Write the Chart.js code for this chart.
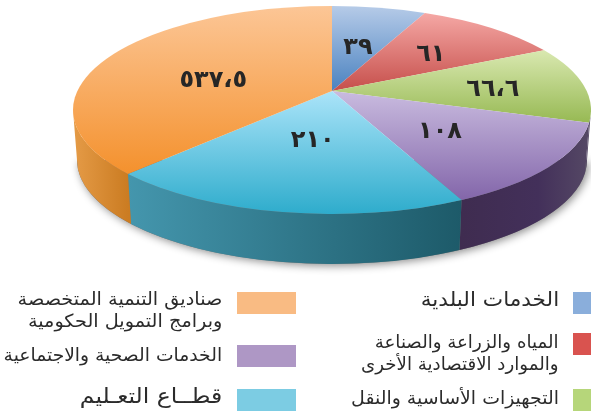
<!DOCTYPE html>
<html lang="ar">
<head>
<meta charset="utf-8">
<style>
  html, body { margin: 0; padding: 0; background: #fff; }
  #wrap { position: relative; width: 591px; height: 414px; overflow: hidden; }
  #legend div { position: absolute; }
  .swatch { width: 59px; height: 22px; }
  .label {
    direction: rtl; text-align: right; white-space: pre-line; transform-origin: right center;
    font-family: "DejaVu Sans", sans-serif; line-height: 22px; color: #2b2b2b;
  }
</style>
</head>
<body>
<div id="wrap">
  <canvas id="chart" width="591" height="414"></canvas>
  <div id="legend"></div>
</div>
<script src="https://cdn.jsdelivr.net/npm/chart.js@4"></script>
<script>
// ===============================
// Data
// ===============================
const categories = [
  "الخدمات البلدية",
  "المياه والزراعة والصناعة\nوالموارد الاقتصادية الأخرى",
  "التجهيزات الأساسية والنقل",
  "الخدمات الصحية والاجتماعية",
  "قطــاع التعـليم",
  "صناديق التنمية المتخصصة\nوبرامج التمويل الحكومية"
];
// printed values
const valueLabels = ["٣٩", "٦١", "٦٦،٦", "١٠٨", "٢١٠", "٥٣٧،٥"];
// slice sizes in degrees as drawn in the picture (not proportional to the printed values)
const sliceDegrees = [21, 34, 42, 53, 82, 128];

// ===============================
// Styles
// ===============================
const faceLight = ["#b6cbe8", "#f5a8a5", "#d9e8b0", "#c9bbdf", "#abe4f9", "#fcc696"];
const faceDark = ["#4a82c0", "#c64f4b", "#98ba55", "#8366aa", "#2eacCC", "#f4912d"];
const sideLight = ["#4a82c0", "#c64f4b", "#554865", "#3f2c50", "#4496ad", "#e59b47"];
const sideDark = ["#4a82c0", "#c64f4b", "#554865", "#554865", "#1d5a69", "#cb7c22"];
const swatchColors = ["#8aaedb", "#d9534f", "#b6d67a", "#ae97c5", "#7ccce3", "#f9bb83"];
const labelReach = [0.55, 0.62, 0.64, 0.5, 0.39, 0.51];

const legendSpots = [
  { swatchLeft: 573, swatchTop: 292, right: 32, top: 288, size: 20, stretch: 1.08 },
  { swatchLeft: 573, swatchTop: 333, right: 32, top: 331, size: 18, stretch: 1.01 },
  { swatchLeft: 573, swatchTop: 389, right: 32, top: 387, size: 18, stretch: 1.05 },
  { swatchLeft: 237, swatchTop: 345, right: 369, top: 344, size: 18, stretch: 1.04 },
  { swatchLeft: 237, swatchTop: 389, right: 369, top: 385, size: 21, stretch: 1.12 },
  { swatchLeft: 237, swatchTop: 292, right: 369, top: 288, size: 18, stretch: 1.07 }
];

// top ellipse, apex sits above its centre, lower rim is a bit narrower
const pie = { cx: 332, cy: 110, rx: 259, ry: 104, apexY: 91, depth: 50, baseRx: 255 };

// ===============================
// Tilted slice element
// ===============================
class TiltedArc extends Chart.ArcElement {
  draw(ctx) {
    const { startAngle, endAngle } = this.getProps(["startAngle", "endAngle"]);
    ctx.save();
    ctx.beginPath();
    ctx.moveTo(pie.cx, pie.apexY);
    ctx.ellipse(pie.cx, pie.cy, pie.rx, pie.ry, 0, startAngle, endAngle);
    ctx.closePath();

    // vertical range of the slice for its gradient
    let top = pie.apexY;
    let bottom = pie.apexY;
    for (let a = startAngle; a <= endAngle; a += 0.02) {
      const y = pie.cy + pie.ry * Math.sin(a);
      top = Math.min(top, y);
      bottom = Math.max(bottom, y);
    }
    const grad = ctx.createLinearGradient(0, top, 0, bottom);
    grad.addColorStop(0, this.options.backgroundColor);
    grad.addColorStop(1, this.options.borderColor);
    ctx.fillStyle = grad;
    ctx.fill();
    ctx.restore();
  }
}
TiltedArc.id = "tiltedArc";

class TiltedPie extends Chart.PieController {}
TiltedPie.id = "tiltedPie";
TiltedPie.defaults = { dataElementType: "tiltedArc" };

Chart.register(TiltedArc, TiltedPie);

// ===============================
// Side wall and value labels
// ===============================
const wallPlugin = {
  id: "wall",
  beforeDatasetsDraw(chart) {
    const ctx = chart.ctx;
    const arcs = chart.getDatasetMeta(0).data;
    const baseY = pie.cy + pie.depth;

    ctx.save();
    ctx.shadowColor = "rgba(0,0,0,0.45)";
    ctx.shadowBlur = 8;
    ctx.shadowOffsetX = 2;
    ctx.shadowOffsetY = 2;
    ctx.fillStyle = "#777";
    ctx.beginPath();
    ctx.ellipse(pie.cx, baseY, pie.baseRx, pie.ry, 0, 0, Math.PI);
    ctx.fill();
    ctx.restore();

    arcs.forEach((arc, i) => {
      const from = Math.max(arc.startAngle, 0);
      const to = Math.min(arc.endAngle, Math.PI);
      if (to <= from) return;
      const x0 = pie.cx + pie.rx * Math.cos(from);
      const x1 = pie.cx + pie.rx * Math.cos(to);
      const grad = ctx.createLinearGradient(x1, 0, x0, 0);
      grad.addColorStop(0, sideLight[i]);
      // the purple wall stays dark for most of its run
      if (i === 3) grad.addColorStop(0.6, "#43305a");
      grad.addColorStop(1, sideDark[i]);
      ctx.beginPath();
      ctx.ellipse(pie.cx, pie.cy, pie.rx, pie.ry, 0, from, to);
      ctx.ellipse(pie.cx, baseY, pie.baseRx, pie.ry, 0, to, from, true);
      ctx.closePath();
      ctx.fillStyle = grad;
      ctx.fill();
    });
  },
  afterDatasetsDraw(chart) {
    const ctx = chart.ctx;
    ctx.save();
    ctx.font = 'bold 24px "DejaVu Sans", sans-serif';
    ctx.fillStyle = "#262626";
    ctx.textAlign = "center";
    ctx.textBaseline = "middle";
    chart.getDatasetMeta(0).data.forEach((arc, i) => {
      const mid = (arc.startAngle + arc.endAngle) / 2;
      const edgeX = pie.cx + pie.rx * Math.cos(mid);
      const edgeY = pie.cy + pie.ry * Math.sin(mid);
      const x = pie.cx + (edgeX - pie.cx) * labelReach[i];
      const y = pie.apexY + (edgeY - pie.apexY) * labelReach[i];
      ctx.fillText(valueLabels[i], x, y + 3);
    });
    ctx.restore();
  }
};

// ===============================
// Chart
// ===============================
new Chart(document.getElementById("chart"), {
  type: "tiltedPie",
  data: {
    labels: categories,
    datasets: [{
      data: sliceDegrees,
      backgroundColor: faceLight,
      borderColor: faceDark,
      borderWidth: 0
    }]
  },
  options: {
    responsive: false,
    animation: false,
    events: [],
    plugins: {
      legend: { display: false },
      tooltip: { enabled: false }
    }
  },
  plugins: [wallPlugin]
});

// ===============================
// Legend
// ===============================
const legendEl = document.getElementById("legend");
categories.forEach((name, i) => {
  const spot = legendSpots[i];
  const swatch = document.createElement("div");
  swatch.className = "swatch";
  swatch.style.left = spot.swatchLeft + "px";
  swatch.style.top = spot.swatchTop + "px";
  swatch.style.background = swatchColors[i];
  legendEl.appendChild(swatch);

  const label = document.createElement("div");
  label.className = "label";
  label.style.right = spot.right + "px";
  label.style.top = spot.top + "px";
  label.style.fontSize = spot.size + "px";
  label.style.transform = "scaleX(" + spot.stretch + ")";
  label.textContent = name;
  legendEl.appendChild(label);
});
</script>
</body>
</html>
